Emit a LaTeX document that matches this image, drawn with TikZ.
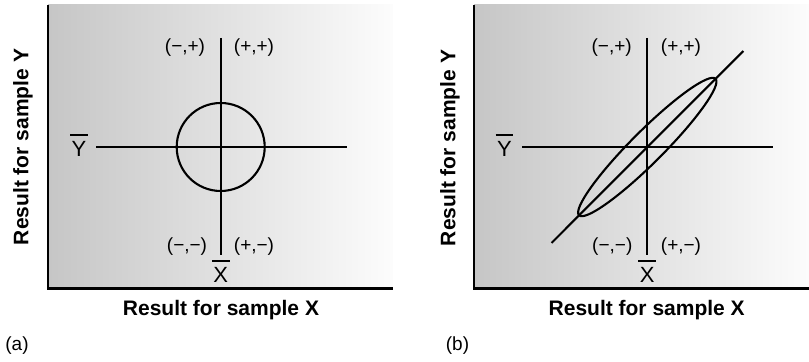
\documentclass[tikz,border=0pt]{standalone}
\usepackage{fontspec}
\setmainfont{Liberation Sans}
\definecolor{shadeL}{RGB}{198,198,198}
\definecolor{shadeR}{RGB}{252,252,252}
\begin{document}
\begin{tikzpicture}[x=0.5pt,y=-0.5pt,
  frame/.style={line width=1.3pt},
  plotline/.style={line width=1.05pt},
  quad/.style={font=\fontsize{9.5}{11}\selectfont, inner sep=0pt},
  mean/.style={font=\fontsize{11}{13}\selectfont, inner sep=0pt},
  bar/.style={line width=1.05pt},
  axlabel/.style={font=\bfseries\fontsize{10.5}{12}\selectfont, inner sep=0pt},
  tag/.style={font=\fontsize{9.5}{11}\selectfont, inner sep=0pt}]
\useasboundingbox (0,0) rectangle (809,362);

% ---------------- panel (a) ----------------
\shade[left color=shadeL, right color=shadeR] (48,5) rectangle (393,288.5);
\coordinate (aTL) at (48,5);
\coordinate (aBL) at (48,288.5);
\coordinate (aBR) at (393,288.5);
\draw[frame] (aTL) -- (aBL) -- (aBR);

\coordinate (ca) at (220.7,147);
\coordinate (avT) at (220.7,38);
\coordinate (avB) at (220.7,255);
\coordinate (ahL) at (96,147);
\coordinate (ahR) at (347,147);
\draw[plotline] (avT) -- (avB);
\draw[plotline] (ahL) -- (ahR);
\draw[plotline] (ca) circle[radius=44];

\node[quad] (amp) at (185,48) {(−,+)};
\node[quad] (app) at (254,48) {(+,+)};
\node[quad] (amm) at (187,247) {(−,−)};
\node[quad] (apm) at (254,247) {(+,−)};

\node[mean] (axbar) at (220.7,275) {X};
\draw[bar] ([yshift=3.2pt,xshift=-0.6pt]axbar.north west) -- ([yshift=3.2pt,xshift=0.6pt]axbar.north east);
\node[mean] (aybar) at (79,149) {Y};
\draw[bar] ([yshift=3.2pt,xshift=-0.6pt]aybar.north west) -- ([yshift=3.2pt,xshift=0.6pt]aybar.north east);

\node[axlabel] (axlab) at (221,310) {Result for sample X};
\node[axlabel, rotate=90] (aylab) at (23,147) {Result for sample Y};
\node[tag] (atag) at (17,346) {(a)};

% ---------------- panel (b) ----------------
\shade[left color=shadeL, right color=shadeR] (474,5) rectangle (809,288.5);
\coordinate (bTL) at (474,5);
\coordinate (bBL) at (474,288.5);
\coordinate (bBR) at (809,288.5);
\draw[frame] (bTL) -- (bBL) -- (bBR);

\coordinate (cb) at (647.3,147);
\coordinate (bvT) at (647.3,38);
\coordinate (bvB) at (647.3,255);
\coordinate (bhL) at (522,147);
\coordinate (bhR) at (773,147);
\coordinate (bdL) at (551.5,243);
\coordinate (bdR) at (743.3,51);
\draw[plotline] (bvT) -- (bvB);
\draw[plotline] (bhL) -- (bhR);
\draw[plotline] (bdL) -- (bdR);
\draw[plotline, rotate around={45:(cb)}] (cb) ellipse[x radius=96.5, y radius=16];

\node[quad] (bmp) at (611.7,48) {(−,+)};
\node[quad] (bpp) at (681,48) {(+,+)};
\node[quad] (bmm) at (612.3,247) {(−,−)};
\node[quad] (bpm) at (681,247) {(+,−)};

\node[mean] (bxbar) at (647.3,275) {X};
\draw[bar] ([yshift=3.2pt,xshift=-0.6pt]bxbar.north west) -- ([yshift=3.2pt,xshift=0.6pt]bxbar.north east);
\node[mean] (bybar) at (504.5,149) {Y};
\draw[bar] ([yshift=3.2pt,xshift=-0.6pt]bybar.north west) -- ([yshift=3.2pt,xshift=0.6pt]bybar.north east);

\node[axlabel] (bxlab) at (646.7,310) {Result for sample X};
\node[axlabel, rotate=90] (bylab) at (450,148) {Result for sample Y};
\node[tag] (btag) at (457.5,346) {(b)};
\end{tikzpicture}
\end{document}
